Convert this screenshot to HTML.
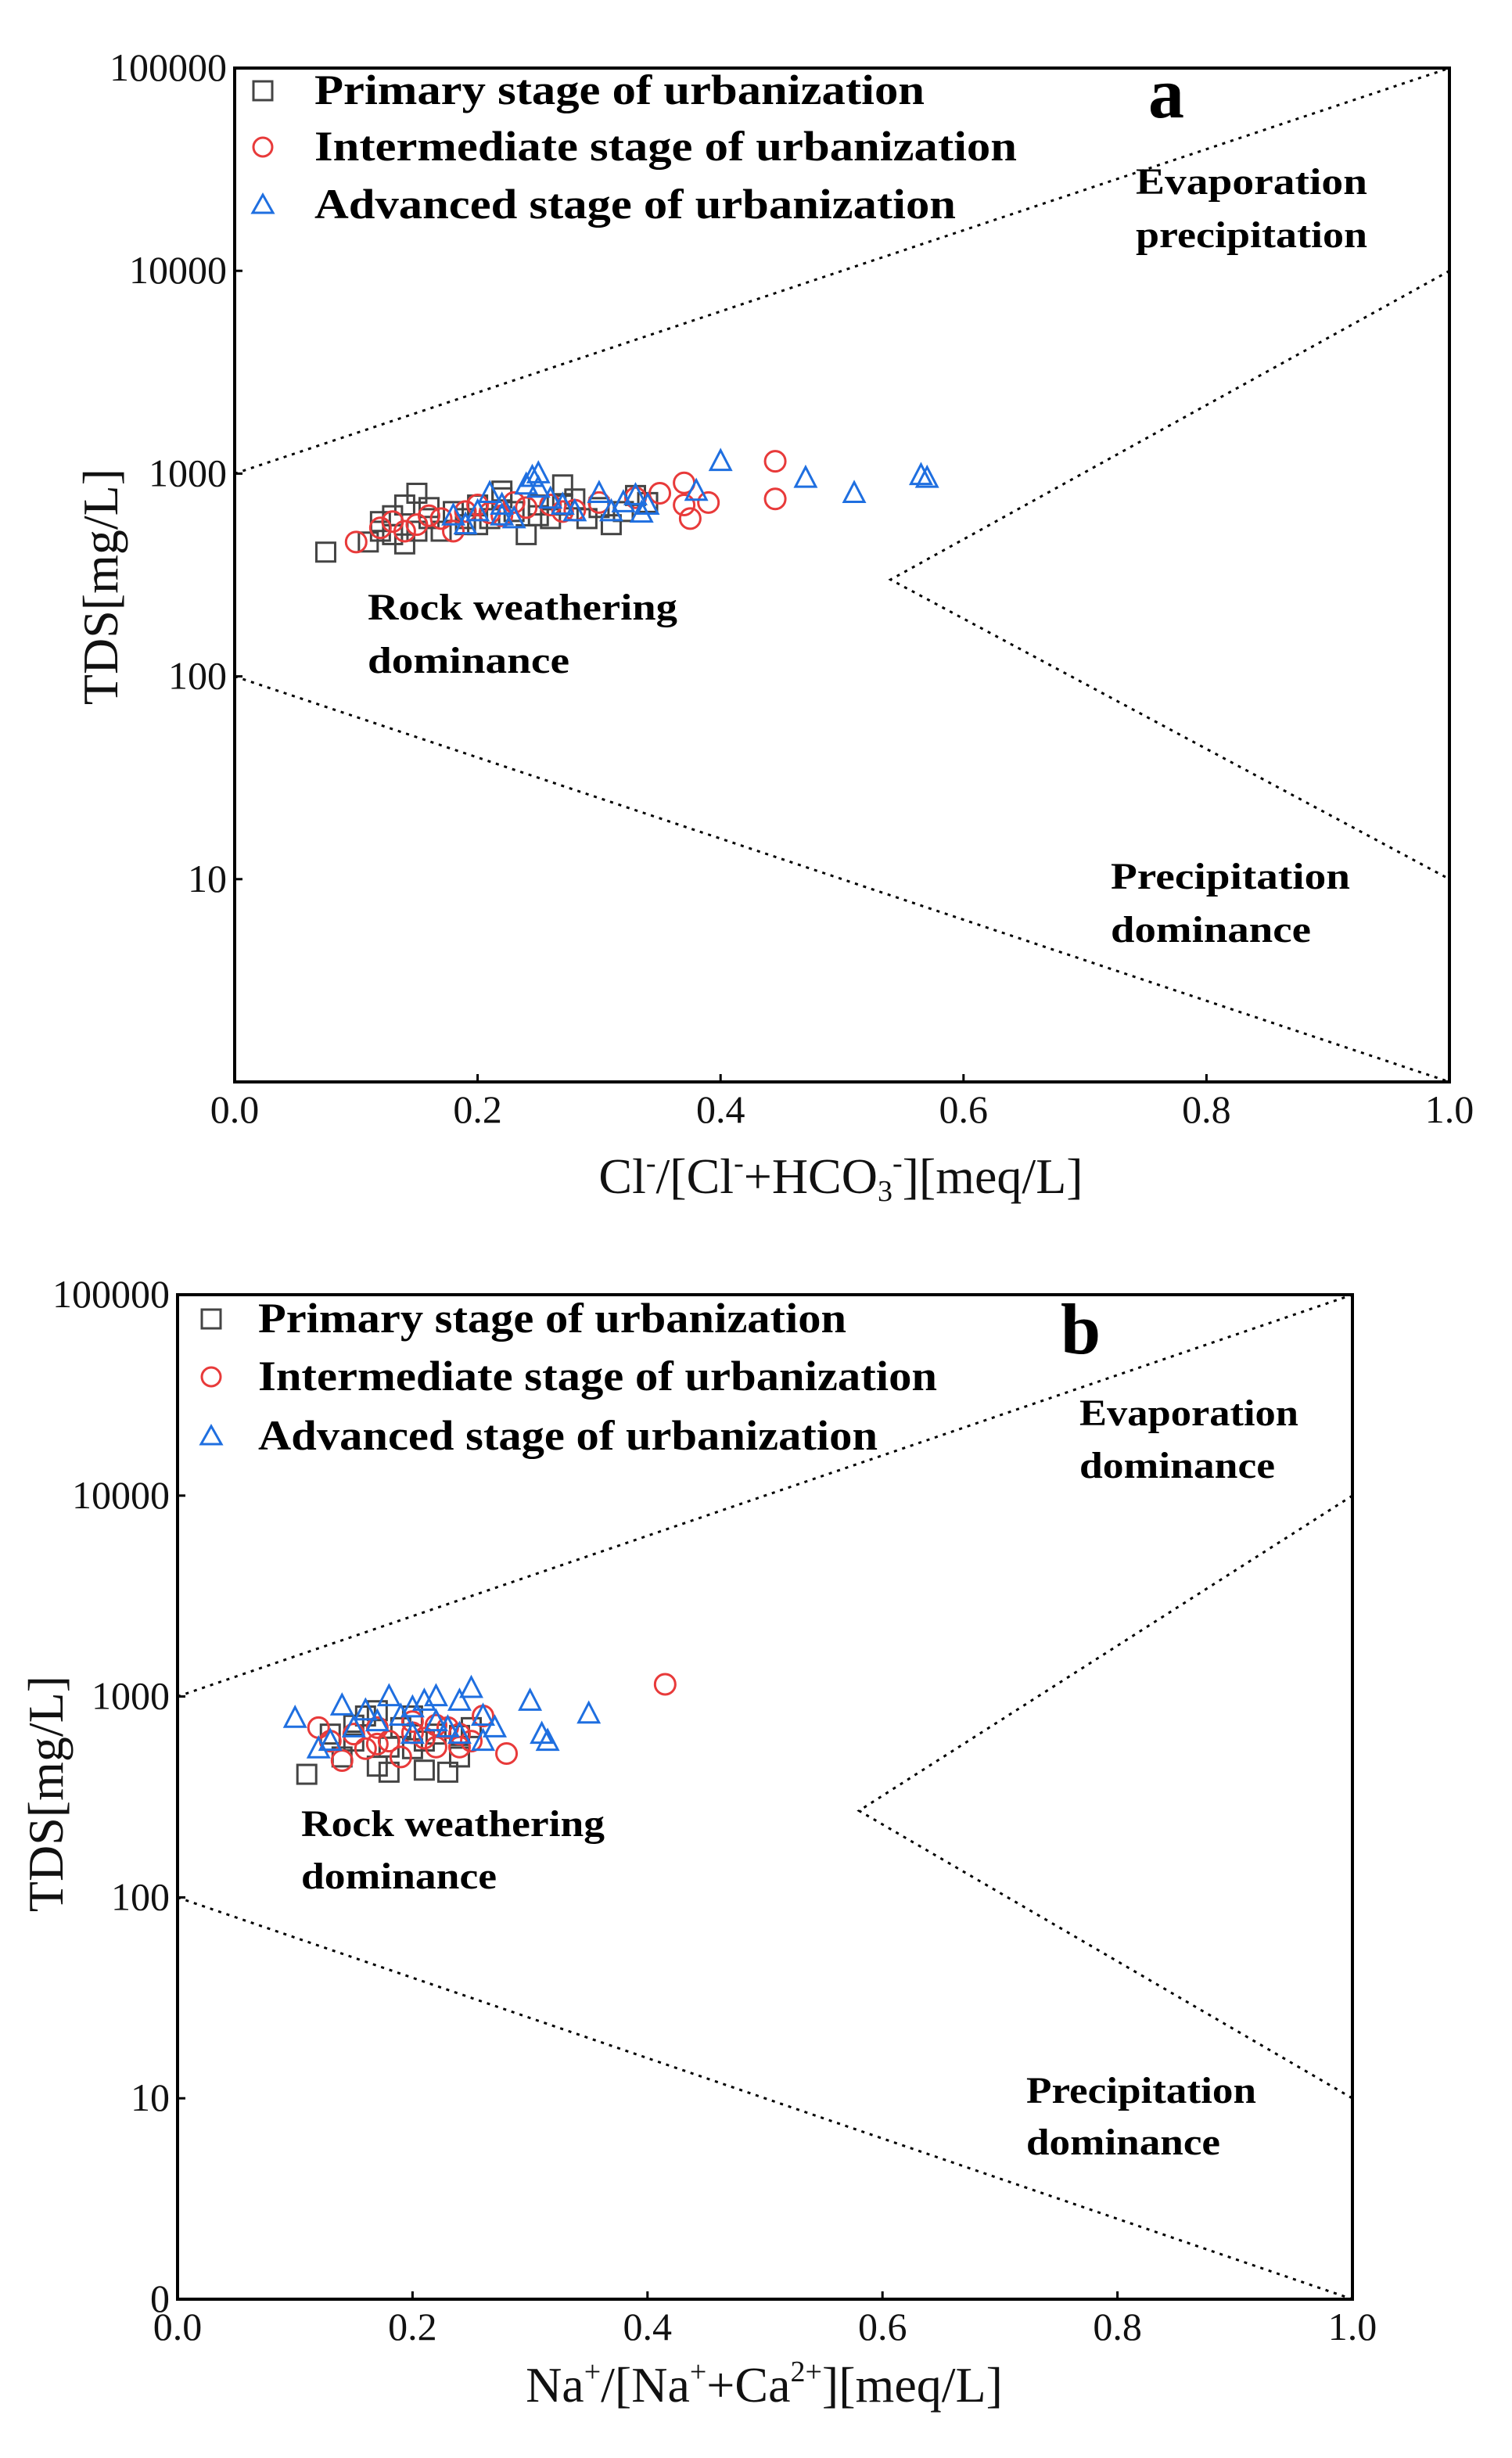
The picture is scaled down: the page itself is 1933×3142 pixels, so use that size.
<!DOCTYPE html>
<html><head><meta charset="utf-8"><style>
html,body{margin:0;padding:0;background:#fff;}
svg{display:block;}
text{font-family:"Liberation Serif",serif;}
</style></head><body>
<svg id="fig" width="1933" height="3142" viewBox="0 0 1933 3142" xmlns="http://www.w3.org/2000/svg"></svg>
<script>
// ---- Panel a data ----
const aPrimaryX=[0.075,0.11,0.12,0.13,0.14,0.14,0.15,0.16,0.17,0.18,0.19,0.2,0.21,0.22,0.23,0.24,0.25,0.26,0.27,0.28,0.29,0.3,0.31,0.33,0.34,0.12,0.13,0.15,0.16,0.19,0.2,0.22,0.25,0.27,0.32];
const aPrimaryY=[410,460,580,500,450,700,800,600,520,650,560,700,600,820,650,500,700,600,880,750,600,680,560,780,720,520,620,520,680,600,560,760,620,700,650];
const aInterX=[0.1,0.12,0.13,0.15,0.17,0.18,0.19,0.2,0.22,0.24,0.26,0.28,0.3,0.33,0.35,0.37,0.37,0.375,0.39,0.445,0.445,0.14,0.16,0.21,0.23,0.27];
const aInterY=[460,540,580,560,600,520,650,700,620,680,700,660,720,760,800,900,700,600,720,1150,750,520,620,640,720,650];
const aAdvX=[0.18,0.2,0.21,0.22,0.23,0.24,0.245,0.25,0.26,0.28,0.3,0.31,0.33,0.34,0.38,0.4,0.47,0.51,0.565,0.57,0.19,0.22,0.25,0.27,0.32,0.335];
const aAdvY=[620,650,800,700,600,880,960,1000,750,650,800,650,780,700,820,1150,950,800,980,950,560,620,850,700,720,640];
// ---- Panel b data ----
const bPrimaryX=[0.11,0.14,0.15,0.16,0.17,0.18,0.19,0.2,0.21,0.22,0.23,0.24,0.25,0.17,0.2,0.13,0.15,0.18,0.21,0.24];
const bPrimaryY=[410,500,600,800,450,420,700,550,430,650,420,500,700,850,800,650,720,560,600,640];
const bInterX=[0.12,0.14,0.15,0.16,0.17,0.18,0.19,0.2,0.21,0.22,0.23,0.24,0.25,0.26,0.28,0.415,0.13,0.17,0.2,0.22,0.24];
const bInterY=[700,480,650,550,700,600,500,750,620,560,700,650,600,800,520,1150,600,580,660,720,560];
const bAdvX=[0.1,0.12,0.14,0.15,0.18,0.19,0.2,0.21,0.22,0.23,0.24,0.25,0.26,0.27,0.3,0.31,0.315,0.35,0.13,0.17,0.16,0.2,0.22,0.24,0.26];
const bAdvY=[780,550,900,700,1000,800,650,950,1000,700,950,1100,800,700,950,650,600,820,600,750,850,880,750,650,600];
// ---- boundary lines [x,TDS] ----
const aUpperX=[0,1], aUpperY=[1000,100000];
const aLowerX=[0,1], aLowerY=[100,1];
const aChevX=[1,0.54,1], aChevY=[10000,300,10];
const bUpperX=[0,1], bUpperY=[1000,100000];
const bLowerX=[0,1], bLowerY=[100,1];
const bChevX=[1,0.58,1], bChevY=[10000,270,10];
const xTicks=["0.0","0.2","0.4","0.6","0.8","1.0"];
const aYTicks=["10","100","1000","10000","100000"];
const bYTicks=["0","10","100","1000","10000","100000"];

const NS="http://www.w3.org/2000/svg";
const svg=document.getElementById('fig');
function mk(tag,attrs,parent){const e=document.createElementNS(NS,tag);for(const k in attrs)e.setAttribute(k,attrs[k]);(parent||svg).appendChild(e);return e;}

function panel(P){
  const g=mk('g',{});
  
  
  const sx=v=>P.x0+v*(P.x1-P.x0);
  const sy=v=>P.y1-(Math.log10(v)/5)*(P.y1-P.y0);
  for(const [lx,ly,nm] of P.lines){
    const pts=lx.map((v,i)=>sx(v).toFixed(1)+','+sy(ly[i]).toFixed(1)).join(' ');
    const pl=mk('polyline',{points:pts,fill:'none',stroke:'#000','stroke-width':3,'stroke-dasharray':'4 7'},g);
    
    
  }
  const fr=mk('rect',{x:P.x0,y:P.y0,width:P.x1-P.x0,height:P.y1-P.y0,fill:'none',stroke:'#000','stroke-width':4},g);
  
  
  xTicks.forEach((t,i)=>{
    const x=sx(i*0.2);
    mk('line',{x1:x,x2:x,y1:P.y1,y2:P.y1-10,stroke:'#000','stroke-width':3},g);
    const tx=mk('text',{x:x,y:P.y1+52,'font-size':50,'text-anchor':'middle',fill:'#111'},g);
    tx.textContent=t;
    
    
  });
  P.yTicks.forEach(t=>{
    const v=t==="0"?1:Number(t);
    const y=sy(v);
    mk('line',{x1:P.x0,x2:P.x0+10,y1:y,y2:y,stroke:'#000','stroke-width':3},g);
    const ty=mk('text',{x:P.x0-10,y:y+16,'font-size':50,'text-anchor':'end',fill:'#111'},g);
    ty.textContent=t;
    
    
  });
  const series=[[P.px,P.py,'sq','#444','primary'],[P.ix,P.iy,'ci','#e83a3a','intermediate'],[P.ax,P.ay,'tr','#1f6fe0','advanced']];
  for(const [xs,ys,shape,col,nm] of series){
    xs.forEach((v,i)=>{
      const cx=sx(v),cy=sy(ys[i]);
      let m;
      if(shape==='sq') m=mk('rect',{x:cx-12,y:cy-12,width:24,height:24,fill:'none',stroke:col,'stroke-width':3},g);
      else if(shape==='ci') m=mk('circle',{cx:cx,cy:cy,r:13,fill:'none',stroke:col,'stroke-width':3},g);
      else m=mk('polygon',{points:`${cx},${cy-14} ${cx-13},${cy+11} ${cx+13},${cy+11}`,fill:'none',stroke:col,'stroke-width':3},g);
      
      
    });
  }
  const leg=[['sq','#444','Primary stage of urbanization'],['ci','#e83a3a','Intermediate stage of urbanization'],['tr','#1f6fe0','Advanced stage of urbanization']];
  leg.forEach((l,i)=>{
    const cy=P.legY[i], cx=P.legX;
    let m;
    if(l[0]==='sq') m=mk('rect',{x:cx-12,y:cy-12,width:24,height:24,fill:'none',stroke:l[1],'stroke-width':3},g);
    else if(l[0]==='ci') m=mk('circle',{cx:cx,cy:cy,r:12,fill:'none',stroke:l[1],'stroke-width':3},g);
    else m=mk('polygon',{points:`${cx},${cy-13} ${cx-13},${cy+10} ${cx+13},${cy+10}`,fill:'none',stroke:l[1],'stroke-width':3},g);
    
    
    const t=mk('text',{x:P.legTX,y:cy+17,'font-size':54,'font-weight':'bold',fill:'#000',textLength:P.legW[i],lengthAdjust:'spacingAndGlyphs'},g);
    t.textContent=l[2];
    
    
  });
  for(const [x,y,s,w,nm] of P.notes){
    const t=mk('text',{x:x,y:y,'font-size':48,'font-weight':'bold',fill:'#000',textLength:w,lengthAdjust:'spacingAndGlyphs'},g);
    t.textContent=s;
    
    
  }
  const lb=mk('text',{x:P.lab[0],y:P.lab[1],'font-size':92,'font-weight':'bold',fill:'#000'},g);
  lb.textContent=P.id;
  
  
  const xt=mk('text',{x:P.xt[0],y:P.xt[1],'font-size':64,'text-anchor':'middle',fill:'#111'},g);
  xt.innerHTML=P.xtitle;
  
  
  const yt=mk('text',{x:0,y:0,'font-size':64,'text-anchor':'middle',fill:'#111',transform:`translate(${P.yt[0]},${P.yt[1]}) rotate(-90)`},g);
  yt.textContent='TDS[mg/L]';
  
  
}

panel({id:'a',x0:300,x1:1853,y0:87,y1:1383,yTicks:aYTicks,
  px:aPrimaryX,py:aPrimaryY,ix:aInterX,iy:aInterY,ax:aAdvX,ay:aAdvY,
  lines:[[aUpperX,aUpperY,'upper-boundary'],[aLowerX,aLowerY,'lower-boundary'],[aChevX,aChevY,'right-boundary']],
  legX:336,legTX:402,legY:[116,188,262],legW:[780,898,820],
  notes:[[1452,248,'Evaporation',296,'evaporation-label'],[1452,316,'precipitation',296,'evaporation-label-2'],
         [470,792,'Rock weathering',396,'rock-weathering-label'],[470,860,'dominance',258,'rock-weathering-label-2'],
         [1420,1136,'Precipitation',306,'precipitation-label'],[1420,1204,'dominance',256,'precipitation-label-2']],
  lab:[1468,150],xt:[1075,1525],
  xtitle:'Cl<tspan font-size="38" dy="-26">-</tspan><tspan dy="26">/[Cl</tspan><tspan font-size="38" dy="-26">-</tspan><tspan dy="26">+HCO</tspan><tspan font-size="38" dy="10">3</tspan><tspan font-size="38" dy="-36">-</tspan><tspan dy="26">][meq/L]</tspan>',
  yt:[150,750]});

panel({id:'b',x0:227,x1:1729,y0:1655,y1:2939,yTicks:bYTicks,
  px:bPrimaryX,py:bPrimaryY,ix:bInterX,iy:bInterY,ax:bAdvX,ay:bAdvY,
  lines:[[bUpperX,bUpperY,'upper-boundary'],[bLowerX,bLowerY,'lower-boundary'],[bChevX,bChevY,'right-boundary']],
  legX:270,legTX:330,legY:[1686,1760,1836],legW:[752,868,792],
  notes:[[1380,1822,'Evaporation',280,'evaporation-label'],[1380,1889,'dominance',250,'evaporation-label-2'],
         [385,2347,'Rock weathering',388,'rock-weathering-label'],[385,2414,'dominance',250,'rock-weathering-label-2'],
         [1312,2688,'Precipitation',294,'precipitation-label'],[1312,2754,'dominance',248,'precipitation-label-2']],
  lab:[1356,1730],xt:[977,3070],
  xtitle:'Na<tspan font-size="38" dy="-26">+</tspan><tspan dy="26">/[Na</tspan><tspan font-size="38" dy="-26">+</tspan><tspan dy="26">+Ca</tspan><tspan font-size="38" dy="-26">2+</tspan><tspan dy="26">][meq/L]</tspan>',
  yt:[80,2293]});
</script>
</body></html>
